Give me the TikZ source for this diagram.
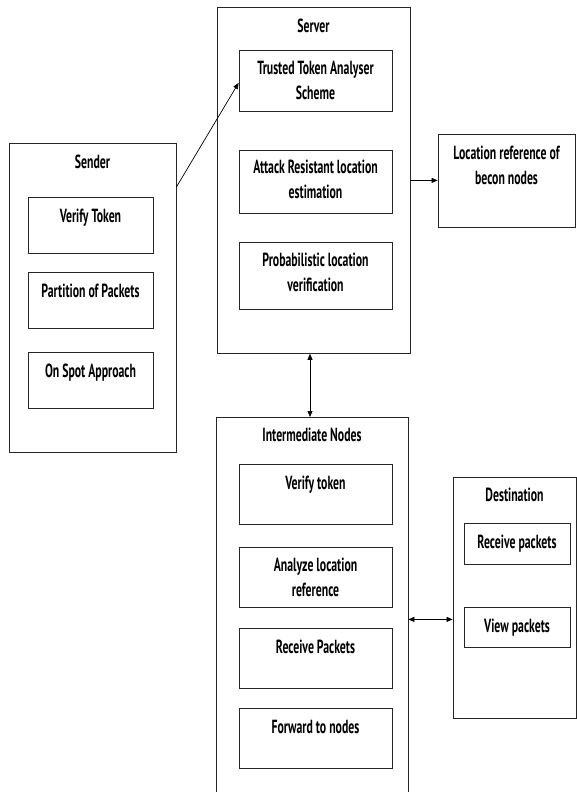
\documentclass[tikz,border=0pt]{standalone}
\usepackage{fontspec}
\setmainfont{PT Sans}[FakeStretch=0.62]
\usetikzlibrary{arrows.meta, positioning}

\begin{document}
\begin{tikzpicture}[x=1pt, y=1pt,
    group/.style={rectangle, draw=black!85, line width=0.8pt, anchor=north},
    inbox/.style={rectangle, draw=black!85, line width=0.8pt, anchor=north, minimum height=60pt},
    lbl/.style={font=\fontsize{19}{25}\selectfont\bfseries, align=center, inner sep=0pt},
    arr/.style={-{Triangle[length=6pt, width=5pt]}, line width=0.7pt},
    dbl/.style={{Triangle[length=6pt, width=5pt]}-{Triangle[length=6pt, width=5pt]}, line width=0.7pt},
  ]
    \useasboundingbox (0,0) rectangle (577,-792);

    % Sender
    \node[group, minimum width=167pt, minimum height=309pt] (sender) at (92.5,-143) {};
    \node[lbl, below=12pt of sender.north] (sendert) {Sender};
    \node[inbox, minimum width=125pt, minimum height=56pt] (sverify) at (90.5,-197) {};
    \node[lbl, below=12pt of sverify.north] (sverifyt) {Verify Token};
    \node[inbox, minimum width=125pt, minimum height=56pt] (spart) at (90.5,-272) {};
    \node[lbl, below=12pt of spart.north] (spartt) {Partition of Packets};
    \node[inbox, minimum width=125pt, minimum height=56pt] (sspot) at (90.5,-352) {};
    \node[lbl, below=12pt of sspot.north] (sspott) {On Spot Approach};

    % Server
    \node[group, minimum width=193pt, minimum height=346pt] (server) at (313.5,-7) {};
    \node[lbl, below=12pt of server.north] (servert) {Server};
    \node[inbox, minimum width=153pt, minimum height=61pt] (trust) at (315.5,-50) {};
    \node[lbl, below=11pt of trust.north] (trustt) {Trusted Token Analyser\\Scheme};
    \node[inbox, minimum width=153pt, minimum height=63pt] (attack) at (315.5,-150) {};
    \node[lbl, below=10pt of attack.north] (attackt) {Attack Resistant location\\estimation};
    \node[inbox, minimum width=153pt, minimum height=67pt] (prob) at (315.5,-242) {};
    \node[lbl, below=11pt of prob.north] (probt) {Probabilistic location\\verification};

    % Location reference
    \node[group, minimum width=137pt, minimum height=93pt] (loc) at (506.5,-134) {};
    \node[lbl, below=12pt of loc.north] (loct) {Location reference of\\becon nodes};

    % Intermediate Nodes
    \node[group, minimum width=192pt, minimum height=390pt] (inter) at (312,-417) {};
    \node[lbl, below=11pt of inter.north] (intert) {Intermediate Nodes};
    \node[inbox, minimum width=153pt] (iverify) at (315.5,-464) {};
    \node[lbl, below=12pt of iverify.north] (iverifyt) {Verify token};
    \node[inbox, minimum width=153pt] (ianalyze) at (315.5,-547) {};
    \node[lbl, below=11pt of ianalyze.north] (ianalyzet) {Analyze location\\reference};
    \node[inbox, minimum width=153pt] (irecv) at (315.5,-628) {};
    \node[lbl, below=12pt of irecv.north] (irecvt) {Receive Packets};
    \node[inbox, minimum width=153pt] (ifwd) at (315.5,-708) {};
    \node[lbl, below=12pt of ifwd.north] (ifwdt) {Forward to nodes};

    % Destination
    \node[group, minimum width=123pt, minimum height=241pt] (dest) at (514.5,-477) {};
    \node[lbl, below=11pt of dest.north] (destt) {Destination};
    \node[inbox, lbl, minimum width=106pt, minimum height=41pt] (drecv) at (517,-523) {Receive packets};
    \node[inbox, lbl, minimum width=106pt, minimum height=40pt] (dview) at (517,-607) {View packets};

    % Connections
    \draw[arr] ([yshift=-44pt]sender.north east) -- ([yshift=-2pt]trust.west);
    \draw[arr] (server.east) -- (server.east -| loc.west);
    \draw[dbl] ([xshift=-3.5pt]server.south) -- ([xshift=-3.5pt]server.south |- inter.north);
    \draw[dbl] ([yshift=-21.5pt]dest.west) -- ([yshift=-21.5pt]dest.west -| inter.east);

\end{tikzpicture}
\end{document}
